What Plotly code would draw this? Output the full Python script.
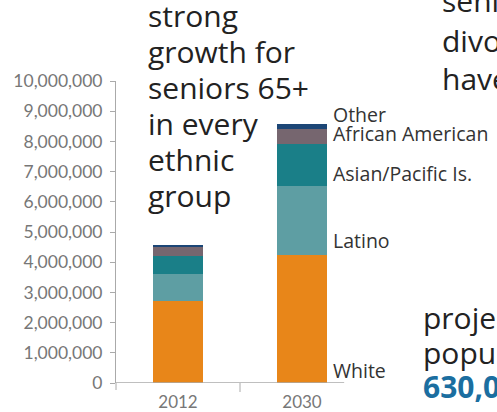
import plotly.graph_objects as go

W, H = 497, 412

years = ["2012", "2030"]
groups = ["White", "Latino", "Asian/Pacific Is.", "African American", "Other"]
white = [2720000, 4240000]
latino = [880000, 2280000]
asian = [620000, 1410000]
african_american = [280000, 470000]
other = [80000, 170000]
series_values = [white, latino, asian, african_american, other]
colors = ["#E88619", "#5E9EA3", "#1A7F88", "#76666F", "#1C4676"]

y_ticks = list(range(0, 10000001, 1000000))

# pixel helpers for layout placement
def px(x):
    return x / W

def py(y):
    return 1 - y / H

plot_left, plot_right = 116, 364
plot_top, plot_bottom = 81, 383

fig = go.Figure()
for name, vals, col in zip(groups, series_values, colors):
    fig.add_trace(go.Bar(x=years, y=vals, name=name, marker=dict(color=col, line=dict(width=0)),
                         hoverinfo="x+y+name"))

fig.update_layout(
    width=W, height=H,
    margin=dict(l=0, r=0, t=0, b=0, autoexpand=False),
    paper_bgcolor="white", plot_bgcolor="white",
    barmode="stack", bargap=1 - 50 / 124,
    showlegend=False,
    font=dict(family="Lato", color="#777"),
    xaxis=dict(domain=[px(plot_left), px(plot_right)], range=[-0.5, 1.5],
               showline=False, showgrid=False, zeroline=False, ticks="",
               tickfont=dict(family="Lato", size=17, color="#777"),
               ticklabelstandoff=7, automargin=False, fixedrange=True),
    yaxis=dict(domain=[py(plot_bottom), py(plot_top)], range=[0, 10000000],
               tickvals=y_ticks, tickformat=",d",
               showline=True, linecolor="#aaa", linewidth=1,
               ticks="outside", ticklen=5, tickcolor="#aaa", tickwidth=1,
               showgrid=False, zeroline=False,
               tickfont=dict(family="Lato", size=17.5, color="#777"),
               ticklabelstandoff=4, automargin=False, fixedrange=True),
)

# baseline and small ticks
fig.add_shape(type="line", xref="x", yref="y", x0=-0.5, x1=1.34, y0=0, y1=0,
              line=dict(color="#aaa", width=1.5), layer="above")
fig.add_shape(type="line", xref="x", yref="paper", x0=0.5, x1=0.5, y0=py(383), y1=py(392),
              line=dict(color="#aaa", width=1))
fig.add_shape(type="line", xref="paper", yref="paper", x0=px(116), x1=px(116), y0=py(383), y1=py(390),
              line=dict(color="#aaa", width=1))

def text_line(txt, x, baseline, size, color="#222", bold=False):
    center = baseline - 0.39 * size
    if bold:
        txt = "<b>" + txt + "</b>"
    fig.add_annotation(text=txt, xref="paper", yref="paper", x=px(x), y=py(center),
                       xanchor="left", yanchor="middle", showarrow=False,
                       font=dict(family="Open Sans", size=size, color=color))

# headline on the left
for t, b in zip(["strong", "growth for", "seniors 65+", "in every", "ethnic", "group"],
                [27, 63, 99, 135, 171, 207]):
    text_line(t, 146, b, 30)

# cut-off neighbouring text on the right
for t, b in zip(["seniors", "divorced", "have"], [12, 52, 90]):
    text_line(t, 440, b, 30)
for t, b in zip(["projected", "population"], [329, 364]):
    text_line(t, 421, b, 30)
text_line("630,000", 421, 398, 30, color="#1B6EA0", bold=True)

# series labels next to the 2030 bar
for t, b in zip(["Other", "African American", "Asian/Pacific Is.", "Latino", "White"],
                [122, 141, 181, 248, 378]):
    text_line(t, 331, b, 19.5, color="#333")

fig.write_html("out.html", config={"displayModeBar": False})
